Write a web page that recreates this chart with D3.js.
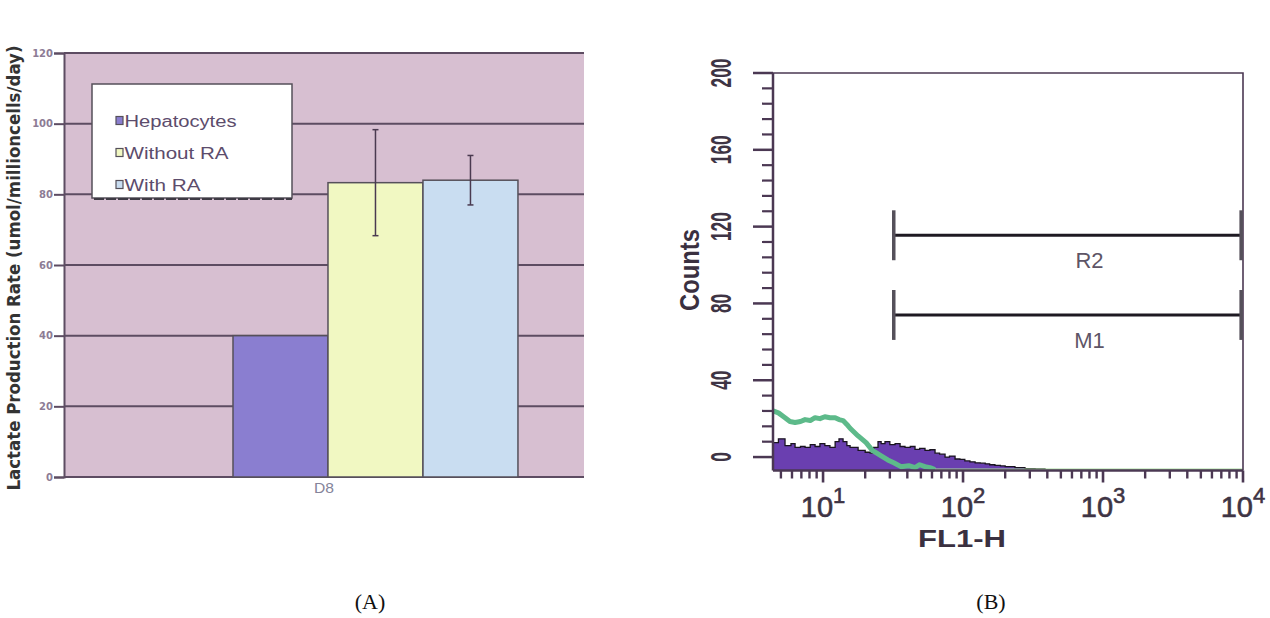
<!DOCTYPE html>
<html>
<head>
<meta charset="utf-8">
<script src="https://cdn.jsdelivr.net/npm/d3@7"></script>
<style>
  body { margin: 0; background: #fff; }
  svg { display: block; }
</style>
</head>
<body>
<div id="chart"></div>
<script>
width = 1270;
height = 618;

//////// Data (A) ////////
const days = ["D8"];
const seriesNames = ["Hepatocytes", "Without RA", "With RA"];
const lactateMeans = [40, 83.3, 84];
const lactateErrors = [null, 15, 7];
const lactateTicks = [0, 20, 40, 60, 80, 100, 120];

//////// Data (B) ////////
const countTicks = [0, 40, 80, 120, 160, 200];
const decadeTicks = [10, 100, 1000, 10000];
// purple filled histogram (FL1-H value, counts)
const fl1Purple = [4.39, 4.8, 5.35, 5.9, 6.31, 6.9, 7.44, 8.1, 8.77, 9.5, 10.3, 11.2, 12.2, 13.0, 13.9, 14.8,
    15.6, 17.8, 20, 21.7, 23, 24.7, 26, 27.7, 30, 32.7, 35.5, 38.5, 42, 45.4, 49, 53.5, 58, 63.1, 68, 74.4,
    80, 87.7, 95, 103, 112, 122, 133, 144, 155, 169, 185, 200, 235, 277, 327, 385];
const countPurple = [7.5, 9.5, 6, 7, 5, 5.5, 5, 6.5, 5.5, 7, 6, 5, 8, 9.5, 8, 6,
    5, 3.5, 2.5, 2, 5, 8, 7, 8, 6.5, 7, 5.5, 5, 5.5, 4, 4.5, 3.5, 3.8, 2, 1.5, 0,
    0.5, -1, -1.2, -2, -2.5, -3, -3.2, -3.5, -4, -4.3, -4.6, -5, -5.5, -6, -6.2, -7];
// green overlay line
const fl1Green = [4.39, 4.8, 5.35, 5.8, 6.31, 6.9, 7.44, 8.1, 8.77, 9.5, 10.3, 11.2, 12.2, 13.0, 13.9, 14.8,
    15.6, 17.8, 20.3, 22.5, 25.5, 29, 32, 36, 41, 45.4, 49, 53.5, 58, 63, 100, 1000, 10000];
const countGreen = [24, 23, 20.5, 18.5, 18, 18.5, 19.5, 19, 20.5, 20, 21, 20.5, 20.5, 19.5, 19, 17,
    15, 11, 7.5, 3.5, 1, -1.5, -3, -5, -4.5, -5.5, -4, -5, -5.5, -6.5, -6.5, -6.5, -6.5];
// markers
const markerNames = ["R2", "M1"];
const markerStart = [32, 32];
const markerEnd = [9700, 9700];
const markerLevel = [115.5, 74];
const markerLabelAt = [800, 800];

const svg = d3.select("#chart").append("svg")
    .attr("width", width)
    .attr("height", height);

//////// Panel A : bar chart ////////
const plotA = { left: 64, right: 584, top: 53, bottom: 477 };
const barColors = ["#8a7ed0", "#f1f8c2", "#c9ddf1"];
const legendWidths = [112, 104, 76];

const yA = d3.scaleLinear().domain([0, 120]).range([plotA.bottom, plotA.top]);
const xA = d3.scaleBand().domain(days).range([plotA.left, plotA.right]);
const groupW = xA.bandwidth() * 0.548;
const groupL = d => xA(d) + xA.bandwidth() * 0.325;
const xSeries = d3.scaleBand().domain(seriesNames).range([0, groupW]);

const gA = svg.append("g").attr("class", "panel-a");

gA.append("rect")
    .attr("x", plotA.left).attr("y", plotA.top)
    .attr("width", plotA.right - plotA.left).attr("height", plotA.bottom - plotA.top)
    .attr("fill", "#d7bfd1");

// grid lines
gA.selectAll("line.grid")
    .data(lactateTicks)
    .join("line")
    .attr("class", "grid")
    .attr("x1", plotA.left).attr("x2", plotA.right)
    .attr("y1", d => yA(d)).attr("y2", d => yA(d))
    .attr("stroke", "#5d4c62")
    .attr("stroke-width", 2);

// y axis
const axisA = gA.append("g")
    .attr("transform", `translate(${plotA.left},0)`)
    .call(d3.axisLeft(yA).tickValues(lactateTicks).tickSize(10).tickPadding(1));
axisA.selectAll("path, line").attr("stroke", "#5d4c62").attr("stroke-width", 2);
axisA.selectAll("text")
    .attr("fill", "#8d7c95")
    .style("font", "bold 10px 'DejaVu Sans', sans-serif");

gA.append("text")
    .attr("transform", `translate(20,${(plotA.top + plotA.bottom) / 2 + 3}) rotate(-90)`)
    .attr("text-anchor", "middle")
    .attr("textLength", 445)
    .attr("lengthAdjust", "spacingAndGlyphs")
    .attr("fill", "#333")
    .style("font", "bold 18px 'DejaVu Sans', sans-serif")
    .text("Lactate Production Rate (umol/millioncells/day)");

// bars
const barData = seriesNames.map((s, i) => ({ day: days[0], series: s, mean: lactateMeans[i], err: lactateErrors[i], color: barColors[i], lw: legendWidths[i] }));

gA.selectAll("rect.bar")
    .data(barData)
    .join("rect")
    .attr("class", "bar")
    .attr("x", d => groupL(d.day) + xSeries(d.series))
    .attr("y", d => yA(d.mean))
    .attr("width", xSeries.bandwidth())
    .attr("height", d => yA(0) - yA(d.mean))
    .attr("fill", d => d.color)
    .attr("stroke", "#55505a")
    .attr("stroke-width", 1.5);

// error bars
const errG = gA.selectAll("g.err")
    .data(barData.filter(d => d.err != null))
    .join("g")
    .attr("class", "err")
    .attr("transform", d => `translate(${groupL(d.day) + xSeries(d.series) + xSeries.bandwidth() / 2},0)`);
errG.append("line")
    .attr("y1", d => yA(d.mean + d.err)).attr("y2", d => yA(d.mean - d.err))
    .attr("stroke", "#4a3a50").attr("stroke-width", 1.5);
errG.selectAll("line.cap")
    .data(d => [d.mean + d.err, d.mean - d.err])
    .join("line")
    .attr("class", "cap")
    .attr("x1", -3).attr("x2", 3)
    .attr("y1", v => yA(v)).attr("y2", v => yA(v))
    .attr("stroke", "#4a3a50").attr("stroke-width", 1.5);

// category label
gA.selectAll("text.day")
    .data(days)
    .join("text")
    .attr("class", "day")
    .attr("x", d => xA(d) + xA.bandwidth() / 2)
    .attr("y", plotA.bottom + 16)
    .attr("text-anchor", "middle")
    .attr("textLength", 20)
    .attr("lengthAdjust", "spacingAndGlyphs")
    .attr("fill", "#85849a")
    .style("font", "15px 'Liberation Sans', sans-serif")
    .text(d => d);

// legend
const legend = gA.append("g").attr("transform", "translate(92,84)");
legend.append("rect")
    .attr("width", 200).attr("height", 114)
    .attr("fill", "#fff")
    .attr("stroke", "#55505a")
    .attr("stroke-width", 1.5);
legend.append("line")
    .attr("x1", 2).attr("x2", 200)
    .attr("y1", 115).attr("y2", 115)
    .attr("stroke", "#3e3a44")
    .attr("stroke-width", 2)
    .attr("stroke-dasharray", "10,2");
const legendRow = legend.selectAll("g.row")
    .data(barData)
    .join("g")
    .attr("class", "row")
    .attr("transform", (d, i) => `translate(24,${37 + i * 32})`);
legendRow.append("rect")
    .attr("x", 0).attr("y", -4.5)
    .attr("width", 7).attr("height", 8)
    .attr("fill", d => d.color)
    .attr("stroke", "#55505a").attr("stroke-width", 1.2);
legendRow.append("text")
    .attr("x", 8.5).attr("y", 6)
    .attr("textLength", d => d.lw)
    .attr("lengthAdjust", "spacingAndGlyphs")
    .attr("fill", "#5c4c6c")
    .style("font", "16px 'Liberation Sans', sans-serif")
    .text(d => d.series);

//////// Panel B : flow cytometry histogram ////////
const plotB = { left: 773, right: 1243, top: 73, bottom: 470.5 };
const axisColor = "#4b3853";

const xB = d3.scaleLog().domain([4.39, 10000]).range([plotB.left, plotB.right]);
const yB = d3.scaleLinear().domain([-7, 200]).range([plotB.bottom, plotB.top]);

const gB = svg.append("g").attr("class", "panel-b");

// purple histogram
const purple = fl1Purple.map((v, i) => ({ v: v, c: countPurple[i] }));
gB.append("path")
    .datum(purple)
    .attr("fill", "#6a3fb0")
    .attr("d", d3.area().curve(d3.curveStepAfter)
        .x(d => xB(d.v)).y0(yB(-7)).y1(d => yB(d.c)));
gB.append("path")
    .datum(purple)
    .attr("fill", "none")
    .attr("stroke", "#1a1420")
    .attr("stroke-width", 1.3)
    .attr("d", d3.line().curve(d3.curveStepAfter).x(d => xB(d.v)).y(d => yB(d.c)));

// green overlay
const green = fl1Green.map((v, i) => ({ v: v, c: countGreen[i] }));
gB.append("path")
    .datum(green.filter(d => d.v <= 63))
    .attr("fill", "none")
    .attr("stroke", "#5dba8a")
    .attr("stroke-width", 5)
    .attr("stroke-linejoin", "round")
    .attr("d", d3.line().x(d => xB(d.v)).y(d => yB(d.c)));
gB.append("path")
    .datum(green.filter(d => d.v >= 63))
    .attr("fill", "none")
    .attr("stroke", "#a9dca0")
    .attr("stroke-width", 2)
    .attr("d", d3.line().x(d => xB(d.v)).y(d => yB(d.c)));

// frame
gB.append("path")
    .attr("d", `M${plotB.left},${plotB.top}H${plotB.right}V${plotB.bottom}`)
    .attr("fill", "none")
    .attr("stroke", axisColor)
    .attr("stroke-width", 1.6);
gB.append("line")
    .attr("x1", plotB.left).attr("x2", plotB.left)
    .attr("y1", plotB.top).attr("y2", plotB.bottom)
    .attr("stroke", axisColor).attr("stroke-width", 2.5);
gB.append("line")
    .attr("x1", plotB.left).attr("x2", plotB.right)
    .attr("y1", plotB.bottom).attr("y2", plotB.bottom)
    .attr("stroke", axisColor).attr("stroke-width", 2.5);

// y ticks
const minorCounts = d3.range(8, 200, 8).filter(d => d % 40 != 0);
gB.selectAll("line.ymin")
    .data(minorCounts)
    .join("line")
    .attr("x1", plotB.left - 11).attr("x2", plotB.left)
    .attr("y1", d => yB(d)).attr("y2", d => yB(d))
    .attr("stroke", axisColor).attr("stroke-width", 2.2);
gB.selectAll("line.ymaj")
    .data(countTicks)
    .join("line")
    .attr("x1", plotB.left - 20).attr("x2", plotB.left)
    .attr("y1", d => yB(d)).attr("y2", d => yB(d))
    .attr("stroke", axisColor).attr("stroke-width", 2.5);
gB.selectAll("text.ylab")
    .data(countTicks)
    .join("text")
    .attr("transform", d => `translate(731,${yB(d)}) rotate(-90)`)
    .attr("text-anchor", "middle")
    .attr("textLength", d => String(d).length * 9.6)
    .attr("lengthAdjust", "spacingAndGlyphs")
    .attr("fill", "#3e3444")
    .style("font", "bold 30px 'Liberation Sans', sans-serif")
    .text(d => d);

// x ticks
const minorFl1 = [];
[1, 10, 100, 1000].forEach(dec => d3.range(2, 10).forEach(k => {
    if (k * dec > 4.39) minorFl1.push(k * dec);
}));
gB.selectAll("line.xmin")
    .data(minorFl1)
    .join("line")
    .attr("x1", d => xB(d)).attr("x2", d => xB(d))
    .attr("y1", plotB.bottom).attr("y2", plotB.bottom + 8)
    .attr("stroke", axisColor).attr("stroke-width", 2.4);
gB.selectAll("line.xmaj")
    .data(decadeTicks)
    .join("line")
    .attr("x1", d => xB(d)).attr("x2", d => xB(d))
    .attr("y1", plotB.bottom).attr("y2", plotB.bottom + 12)
    .attr("stroke", axisColor).attr("stroke-width", 2.6);
const xLab = gB.selectAll("text.xlab")
    .data(decadeTicks)
    .join("text")
    .attr("x", d => xB(d))
    .attr("y", 517)
    .attr("text-anchor", "middle")
    .attr("fill", "#3e3444")
    .attr("stroke", "#3e3444")
    .attr("stroke-width", 0.6)
    .style("font", "29px 'Liberation Sans', sans-serif");
xLab.append("tspan").text("10");
xLab.append("tspan")
    .attr("dy", -14)
    .style("font-size", "22px")
    .text(d => Math.round(Math.log10(d)));

// axis titles
gB.append("text")
    .attr("x", 918).attr("y", 547)
    .attr("textLength", 88)
    .attr("lengthAdjust", "spacingAndGlyphs")
    .attr("fill", "#3a3040")
    .style("font", "bold 23px 'Liberation Sans', sans-serif")
    .text("FL1-H");
gB.append("text")
    .attr("transform", "translate(699,270) rotate(-90)")
    .attr("text-anchor", "middle")
    .attr("textLength", 82)
    .attr("lengthAdjust", "spacingAndGlyphs")
    .attr("fill", "#3a3040")
    .style("font", "bold 27px 'Liberation Sans', sans-serif")
    .text("Counts");

// markers
const markers = markerNames.map((m, i) => ({ name: m, x0: markerStart[i], x1: markerEnd[i], level: markerLevel[i], at: markerLabelAt[i] }));
const mk = gB.selectAll("g.marker")
    .data(markers)
    .join("g")
    .attr("class", "marker");
mk.append("line")
    .attr("x1", d => xB(d.x0)).attr("x2", d => xB(d.x1))
    .attr("y1", d => yB(d.level)).attr("y2", d => yB(d.level))
    .attr("stroke", "#1e1a22").attr("stroke-width", 3);
mk.selectAll("line.end")
    .data(d => [d.x0, d.x1].map(x => ({ x: x, level: d.level })))
    .join("line")
    .attr("class", "end")
    .attr("x1", e => xB(e.x)).attr("x2", e => xB(e.x))
    .attr("y1", e => yB(e.level + 13)).attr("y2", e => yB(e.level - 13))
    .attr("stroke", "#55505a").attr("stroke-width", 3.5);
mk.append("text")
    .attr("x", d => xB(d.at))
    .attr("y", d => yB(d.level) + 33)
    .attr("text-anchor", "middle")
    .attr("fill", "#5e5566")
    .style("font", "22px 'Liberation Sans', sans-serif")
    .text(d => d.name);

//////// Panel captions ////////
svg.selectAll("text.caption")
    .data([{ t: "(A)", x: 370 }, { t: "(B)", x: 991 }])
    .join("text")
    .attr("class", "caption")
    .attr("x", d => d.x).attr("y", 609)
    .attr("text-anchor", "middle")
    .attr("fill", "#111")
    .style("font", "22px 'Liberation Serif', serif")
    .text(d => d.t);
</script>
</body>
</html>
